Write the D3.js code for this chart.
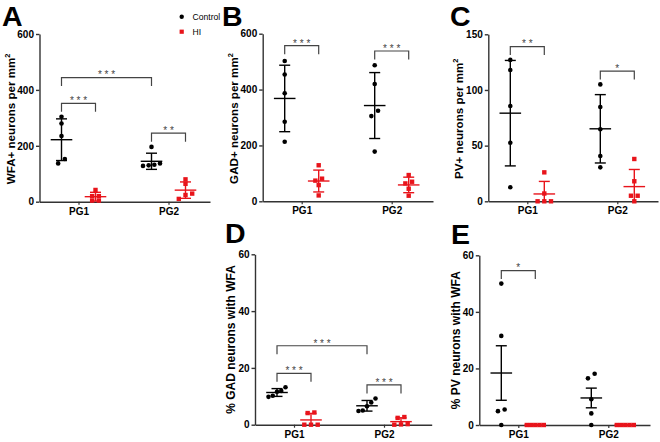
<!DOCTYPE html>
<html><head><meta charset="utf-8">
<script src="https://cdn.jsdelivr.net/npm/d3@7"></script>
<style>body{margin:0;background:#fff}svg{display:block}</style>
</head><body><svg id="c" width="660" height="442"></svg>
<script>
// ---------- DATA ----------
const groups = ["PG1", "PG2"];
const seriesNames = ["Control", "HI"];

// Panel A: WFA+ neurons per mm2
const wfaControl = [[304, 280, 235, 153, 137], [196, 137, 132, 130, 128]];
const wfaHI      = [[42, 20, 20, 4, 4], [80, 64, 29, 24, 10]];
const wfaTicks   = [0, 200, 400, 600];
const wfaSig = [
  {a: ["Control", "PG1"], b: ["HI", "PG1"], y: 352, label: "***"},
  {a: ["Control", "PG2"], b: ["HI", "PG2"], y: 245, label: "**"},
  {a: ["Control", "PG1"], b: ["Control", "PG2"], y: 444, label: "***"}
];

// Panel B: GAD+ neurons per mm2
const gadControl = [[502, 454, 387, 285, 213], [487, 420, 324, 305, 178]];
const gadHI      = [[129, 81, 74, 58, 21], [94, 70, 64, 45, 20]];
const gadTicks   = [0, 200, 400, 600];
const gadSig = [
  {a: ["Control", "PG1"], b: ["HI", "PG1"], y: 557, label: "***"},
  {a: ["Control", "PG2"], b: ["HI", "PG2"], y: 538, label: "***"}
];

// Panel C: PV+ neurons per mm2
const pvControl = [[127, 118, 85.6, 52.6, 12.6], [105, 84.7, 64.7, 40.7, 30.5]];
const pvHI      = [[26, 7, 0, 0, 0], [38, 18, 5, 5, 0]];
const pvTicks   = [0, 50, 100, 150];
const pvSig = [
  {a: ["Control", "PG1"], b: ["HI", "PG1"], y: 139, label: "**"},
  {a: ["Control", "PG2"], b: ["HI", "PG2"], y: 117, label: "*"}
];

// Panel D: % GAD neurons with WFA
const gadWfaControl = [[13.2, 11.9, 11.6, 10.2, 9.8], [9.2, 7.8, 6.5, 5.0, 4.8]];
const gadWfaHI      = [[4.3, 4.1, 0, 0, 0], [2.7, 2.4, 0.2, 0.1, 0]];
const gadWfaTicks   = [0, 20, 40, 60];
const gadWfaSig = [
  {a: ["Control", "PG1"], b: ["HI", "PG1"], y: 18.1, label: "***"},
  {a: ["Control", "PG2"], b: ["HI", "PG2"], y: 14.0, label: "***"},
  {a: ["Control", "PG1"], b: ["Control", "PG2"], y: 27.8, label: "***"}
];

// Panel E: % PV neurons with WFA
const pvWfaControl = [[50, 31.5, 5.5, 4.9, 0], [18.1, 16.5, 9.1, 4.1, 0]];
const pvWfaHI      = [[0, 0, 0, 0, 0], [0, 0, 0, 0, 0]];
const pvWfaTicks   = [0, 20, 40, 60];
const pvWfaSig = [
  {a: ["Control", "PG1"], b: ["HI", "PG1"], y: 54.6, label: "*"}
];

// ---------- LAYOUT / STYLE ----------
const RED = "#e8141b", BLACK = "#000", AXIS = "#333", SIGC = "#444";
const FONT = "'Liberation Sans', Arial, Helvetica, sans-serif";

const panels = [
  {letter: "A", lx: 2, ly: 26, control: wfaControl, hi: wfaHI, ticks: wfaTicks, ymax: 600, sig: wfaSig, err: "sd",
   yLabel: "WFA+ neurons per mm", sup: "2", labFs: 11.6, labX: 14.5, x0: 39.5, yTop: 34, yBot: 201.7, xEnd: 210, legend: true},
  {letter: "B", lx: 222, ly: 26, control: gadControl, hi: gadHI, ticks: gadTicks, ymax: 600, sig: gadSig, err: "sd",
   yLabel: "GAD+ neurons per mm", sup: "2", labFs: 11.6, labX: 237.5, x0: 262.7, yTop: 33.7, yBot: 201.3, xEnd: 433},
  {letter: "C", lx: 450, ly: 26, control: pvControl, hi: pvHI, ticks: pvTicks, ymax: 150, sig: pvSig, err: "sd",
   yLabel: "PV+ neurons per mm", sup: "2", labFs: 11.6, labX: 462.5, x0: 488.3, yTop: 34.3, yBot: 201.3, xEnd: 658},
  {letter: "D", lx: 225, ly: 243, control: gadWfaControl, hi: gadWfaHI, ticks: gadWfaTicks, ymax: 60, sig: gadWfaSig, err: "sd",
   yLabel: "% GAD neurons with WFA", sup: "", labFs: 12, labX: 235, x0: 255, yTop: 254.3, yBot: 424.7, xEnd: 431.7},
  {letter: "E", lx: 451, ly: 243.5, control: pvWfaControl, hi: pvWfaHI, ticks: pvWfaTicks, ymax: 60, sig: pvWfaSig, err: "sem",
   yLabel: "% PV neurons with WFA", sup: "", labFs: 12, labX: 460, x0: 479.3, yTop: 255.3, yBot: 425, xEnd: 650}
];

const svg = d3.select("#c").style("font-family", FONT);
svg.append("rect").attr("width", 660).attr("height", 442).attr("fill", "#fff");

const SERIES_OFF = {Control: -17, HI: 17};

function swarm(vals, y, thr) {
  const idx = vals.map((v, i) => i).sort((a, b) => vals[a] - vals[b]);
  const off = new Array(vals.length).fill(0);
  let clusters = [], cur = [idx[0]];
  for (let k = 1; k < idx.length; k++) {
    const dy = Math.abs(y(vals[idx[k]]) - y(vals[idx[k - 1]]));
    if (dy < thr) cur.push(idx[k]); else { clusters.push(cur); cur = [idx[k]]; }
  }
  clusters.push(cur);
  clusters.forEach(c => {
    const n = c.length;
    const s = n > 1 ? Math.min(6.7, 17 / (n - 1)) : 0;
    c.forEach((id, i) => off[id] = (i - (n - 1) / 2) * s);
  });
  return off;
}

panels.forEach(p => {
  const g = svg.append("g");
  const y = d3.scaleLinear().domain([0, p.ymax]).range([p.yBot, p.yTop]);
  const unit = 90;
  const d0 = 1 - 39 / unit, d1 = 2 + (p.xEnd - (p.x0 + 39 + unit)) / unit;
  const x = d3.scaleLinear().domain([d0, d1]).range([p.x0, p.xEnd]);

  // panel letter
  g.append("text").attr("x", p.lx).attr("y", p.ly).attr("font-size", 28.5).attr("font-weight", "bold")
    .attr("fill", "#000").text(p.letter);

  // y axis
  const ya = g.append("g").attr("transform", `translate(${p.x0},0)`)
    .call(d3.axisLeft(y).tickValues(p.ticks).tickSize(3.5).tickPadding(2).tickSizeOuter(0));
  ya.select(".domain").attr("stroke", AXIS).attr("stroke-width", 1.4);
  ya.selectAll(".tick line").attr("stroke", AXIS).attr("stroke-width", 1.4);
  ya.selectAll(".tick text").attr("font-size", 10).attr("font-weight", "bold").attr("fill", "#000").attr("font-family", FONT);

  // x axis
  const xa = g.append("g").attr("transform", `translate(0,${p.yBot})`)
    .call(d3.axisBottom(x).tickValues([1, 2]).tickFormat(d => groups[d - 1]).tickSize(3).tickPadding(3).tickSizeOuter(0));
  xa.select(".domain").attr("stroke", AXIS).attr("stroke-width", 1.4);
  xa.selectAll(".tick line").attr("stroke", AXIS).attr("stroke-width", 1.2);
  xa.selectAll(".tick text").attr("font-size", 10).attr("font-weight", "bold").attr("fill", "#000").attr("font-family", FONT);

  // y label
  const cy = (p.yTop + p.yBot) / 2 + (p.sup ? 1 : 0);
  const t = g.append("text").attr("transform", `translate(${p.labX},${cy}) rotate(-90)`)
    .attr("text-anchor", "middle").attr("font-size", p.labFs).attr("font-weight", "bold").attr("fill", "#000");
  t.append("tspan").text(p.yLabel);
  if (p.sup) t.append("tspan").attr("dy", -4.5).attr("font-size", 7.5).text(p.sup);

  // significance brackets
  const px = (key) => x(groups.indexOf(key[1]) + 1) + SERIES_OFF[key[0]];
  p.sig.forEach(s => {
    const xa1 = px(s.a), xb1 = px(s.b), yy = y(s.y);
    g.append("path").attr("d", `M${xa1},${yy + 8.5}V${yy}H${xb1}V${yy + 8.5}`)
      .attr("fill", "none").attr("stroke", SIGC).attr("stroke-width", 1.2);
    g.append("text").attr("x", (xa1 + xb1) / 2).attr("y", yy + 0.8).attr("text-anchor", "middle")
      .attr("font-size", 10).attr("fill", SIGC).text(s.label.split("").join(" "));
  });

  // data series
  [["Control", p.control, BLACK], ["HI", p.hi, RED]].forEach(([name, data, col]) => {
    data.forEach((vals, gi) => {
      const cx = x(gi + 1) + SERIES_OFF[name];
      const m = d3.mean(vals);
      const sd = d3.deviation(vals);
      const e = p.err === "sd" ? sd : sd / Math.sqrt(vals.length);
      const hiV = m + e, loV = Math.max(0, m - e);
      g.append("line").attr("x1", cx).attr("x2", cx).attr("y1", y(loV)).attr("y2", y(hiV))
        .attr("stroke", col).attr("stroke-width", 1.4);
      g.append("line").attr("x1", cx - 5.5).attr("x2", cx + 5.5).attr("y1", y(hiV)).attr("y2", y(hiV))
        .attr("stroke", col).attr("stroke-width", 1.4);
      if (m - e >= 0) g.append("line").attr("x1", cx - 5.5).attr("x2", cx + 5.5).attr("y1", y(loV)).attr("y2", y(loV))
        .attr("stroke", col).attr("stroke-width", 1.4);
      g.append("line").attr("x1", cx - 10.8).attr("x2", cx + 10.8).attr("y1", y(m)).attr("y2", y(m))
        .attr("stroke", col).attr("stroke-width", 1.4);
      const off = swarm(vals, y, name === "Control" ? 6 : 4);
      vals.forEach((v, i) => {
        if (name === "Control") {
          g.append("circle").attr("cx", cx + off[i]).attr("cy", y(v)).attr("r", 2.3).attr("fill", col);
        } else {
          g.append("rect").attr("x", cx + off[i] - 2.2).attr("y", y(v) - 2.2).attr("width", 4.4).attr("height", 4.4).attr("fill", col);
        }
      });
    });
  });

  // legend
  if (p.legend) {
    const lg = svg.append("g");
    lg.append("circle").attr("cx", 181.7).attr("cy", 16.7).attr("r", 2.2).attr("fill", BLACK);
    lg.append("text").attr("x", 192.5).attr("y", 19.8).attr("font-size", 8.6).attr("fill", "#000").text(seriesNames[0]);
    lg.append("rect").attr("x", 179.6).attr("y", 29.6).attr("width", 4.2).attr("height", 4.2).attr("fill", RED);
    lg.append("text").attr("x", 192.5).attr("y", 34.8).attr("font-size", 8.6).attr("fill", "#000").text(seriesNames[1]);
  }
});
</script></body></html>
